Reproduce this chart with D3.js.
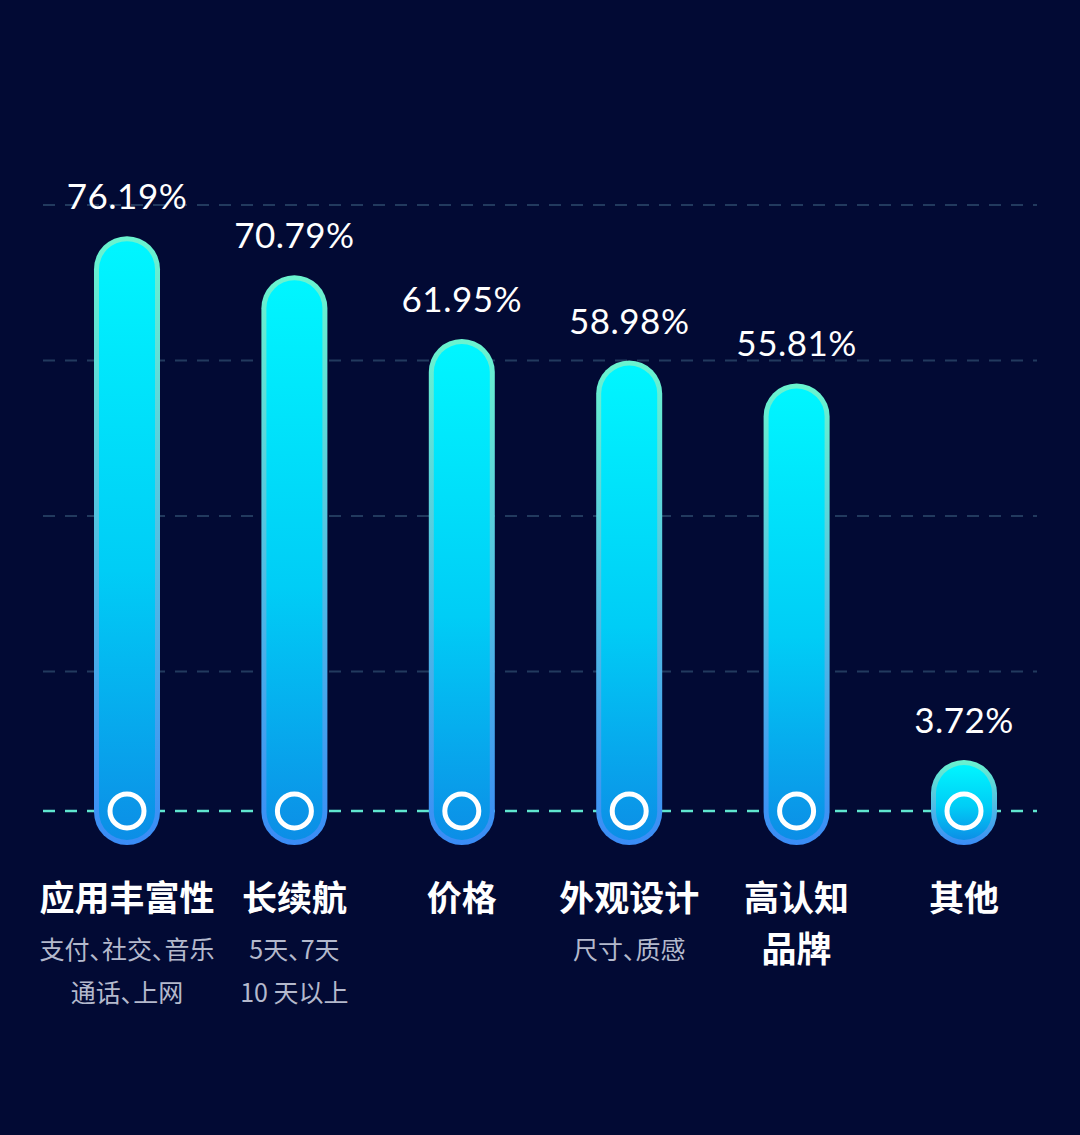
<!DOCTYPE html>
<html><head><meta charset="utf-8">
<script src="https://cdn.jsdelivr.net/npm/d3@7"></script>
<style>html,body{margin:0;padding:0;background:#020a34;}svg{display:block;}</style>
</head><body>
<svg id="c" width="1080" height="1135"></svg>
<script>
const categories = ["应用丰富性", "长续航", "价格", "外观设计", "高认知品牌", "其他"];
const categoryLines = [["应用丰富性"], ["长续航"], ["价格"], ["外观设计"], ["高认知", "品牌"], ["其他"]];
const subLabels = [["支付、社交、音乐", "通话、上网"], ["5天、7天", "10 天以上"], [], ["尺寸、质感"], [], []];
const values = [76.19, 70.79, 61.95, 58.98, 55.81, 3.72];
const valueLabels = ["76.19%", "70.79%", "61.95%", "58.98%", "55.81%", "3.72%"];

const W = 1080, H = 1135;
const svg = d3.select("#c");
svg.append("rect").attr("width", W).attr("height", H).attr("fill", "#020a34");

const x = d3.scalePoint().domain(categories).range([127, 964]);
const y = d3.scaleLinear().domain([0, 100]).range([787, 64]);
const bottomY = 845, baseY = 811, barW = 66, border = 5;

const defs = svg.append("defs");
const g1 = defs.append("linearGradient").attr("id", "outerG").attr("x1", 0).attr("y1", 0).attr("x2", 0).attr("y2", 1);
g1.append("stop").attr("offset", 0).attr("stop-color", "#6af4cf");
g1.append("stop").attr("offset", 1).attr("stop-color", "#3a8cf6");
const g2 = defs.append("linearGradient").attr("id", "innerG").attr("x1", 0).attr("y1", 0).attr("x2", 0).attr("y2", 1);
g2.append("stop").attr("offset", 0).attr("stop-color", "#00f6ff");
g2.append("stop").attr("offset", 0.55).attr("stop-color", "#00cdf6");
g2.append("stop").attr("offset", 1).attr("stop-color", "#0c8ee6");

// gridlines (decorative, evenly spaced)
const gridY = d3.range(4).map(i => 205 + i * 155.5);
svg.append("g").selectAll("line").data(gridY).join("line")
  .attr("x1", 43).attr("x2", 1037).attr("y1", d => d).attr("y2", d => d)
  .attr("stroke", "#223a5e").attr("stroke-width", 2).attr("stroke-dasharray", "12 10");

// baseline
svg.append("line").attr("x1", 43).attr("x2", 1037).attr("y1", baseY).attr("y2", baseY)
  .attr("stroke", "#5fe6cf").attr("stroke-width", 2.5).attr("stroke-dasharray", "12 10");

const bars = svg.append("g").selectAll("g").data(categories).join("g");
bars.append("rect")
  .attr("x", d => x(d) - barW / 2).attr("y", (d, i) => y(values[i]))
  .attr("width", barW).attr("height", (d, i) => bottomY - y(values[i]))
  .attr("rx", barW / 2).attr("ry", barW / 2).attr("fill", "url(#outerG)");
bars.append("rect")
  .attr("x", d => x(d) - barW / 2 + border).attr("y", (d, i) => y(values[i]) + border)
  .attr("width", barW - 2 * border).attr("height", (d, i) => bottomY - y(values[i]) - 2 * border)
  .attr("rx", barW / 2 - border).attr("ry", barW / 2 - border).attr("fill", "url(#innerG)");
bars.append("circle")
  .attr("cx", d => x(d)).attr("cy", baseY).attr("r", 17)
  .attr("fill", "none").attr("stroke", "#ffffff").attr("stroke-width", 5);

// value labels
bars.append("text")
  .attr("x", d => x(d)).attr("y", (d, i) => y(values[i]) - 27)
  .attr("text-anchor", "middle").attr("fill", "#ffffff")
  .attr("font-family", "Lato, 'Noto Sans', sans-serif").attr("font-size", 35)
  .attr("letter-spacing", 0.5)
  .text((d, i) => valueLabels[i]);

// category labels
bars.each(function(d, i) {
  const g = d3.select(this);
  categoryLines[i].forEach((s, j) => {
    g.append("text").attr("x", x(d)).attr("y", 911 + j * 51)
      .attr("text-anchor", "middle").attr("fill", "#ffffff")
      .attr("font-family", "'Noto Sans CJK SC', sans-serif").attr("font-weight", 700)
      .attr("font-size", 35).text(s);
  });
  subLabels[i].forEach((s, j) => {
    g.append("text").attr("x", x(d)).attr("y", 959 + j * 43)
      .attr("text-anchor", "middle").attr("fill", "#b4b9cc")
      .attr("font-family", "'Noto Sans CJK SC', sans-serif").attr("font-weight", 400)
      .attr("font-size", 25).style("font-feature-settings", "'palt'").text(s);
  });
});
</script>
</body></html>
